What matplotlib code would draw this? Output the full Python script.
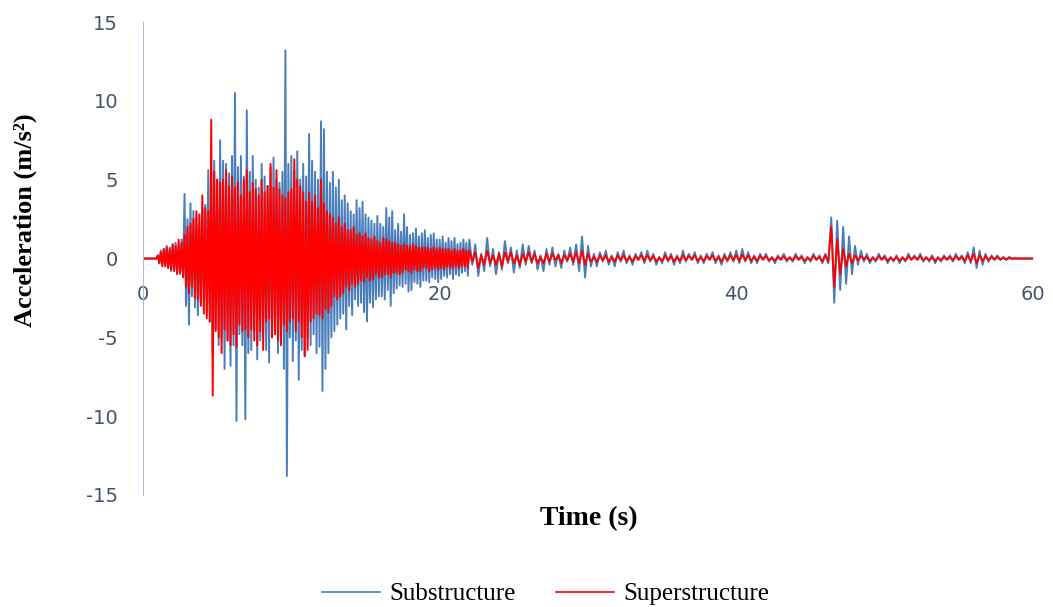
import numpy as np
import matplotlib
matplotlib.use('Agg')
import matplotlib.pyplot as plt

plt.rcParams['axes.unicode_minus'] = False

# acceleration records (m/s^2)
# quiet lead-in before shaking starts
lead_t = [0.0, 0.9]
lead_val = [0.0, 0.0]

# strong part, 0.1 s samples from 1.0 s to 21.9 s (one row = 1 s)
dense_start, dense_step = 1.0, 0.1
sub_dense = [0.2, -0.3, 0.5, -0.4, 0.6, -0.5, 0.8, -0.6, 0.7, -0.8,
             0.9, -0.7, 1.0, -0.9, 0.8, -1.0, 1.2, -1.1, 4.1, -3.0,
             2.5, -4.2, 3.5, -2.4, 3.0, -3.1, 2.6, -3.6, 2.2, -2.8,
             3.2, -2.5, 3.4, -3.4, 5.6, -4.0, 4.8, -6.0, 6.2, -4.5,
             5.0, -5.5, 7.5, -5.0, 6.2, -7.0, 6.0, -5.2, 5.4, -6.8,
             6.5, -5.5, 10.5, -10.3, 5.8, -4.8, 6.5, -5.5, 5.2, -10.2,
             9.4, -6.0, 5.5, -5.8, 6.5, -4.6, 5.0, -6.4, 4.5, -5.2,
             6.0, -4.8, 5.2, -5.8, 4.6, -6.6, 5.8, -5.0, 6.4, -4.4,
             5.0, -6.0, 4.8, -5.4, 5.5, -7.0, 13.2, -13.8, 6.0, -5.0,
             6.5, -6.5, 5.6, -5.2, 6.8, -7.7, 5.0, -5.8, 6.0, -6.2,
             5.2, -5.0, 7.9, -5.5, 6.2, -4.8, 5.5, -6.0, 5.0, -5.6,
             8.7, -8.4, 8.2, -7.0, 5.5, -6.0, 4.8, -5.0, 5.5, -4.6,
             4.5, -4.2, 5.0, -3.8, 3.7, -3.5, 4.0, -4.5, 3.5, -3.0,
             3.0, -3.6, 2.8, -2.6, 3.7, -3.0, 3.2, -2.8, 3.6, -3.4,
             2.8, -4.0, 2.6, -2.8, 2.4, -3.1, 2.2, -2.6, 2.7, -2.4,
             2.2, -2.4, 2.0, -2.6, 3.2, -2.0, 2.6, -3.0, 3.0, -2.2,
             1.8, -1.9, 2.2, -1.7, 1.7, -1.8, 2.8, -1.6, 2.0, -2.1,
             1.5, -2.0, 1.6, -1.5, 1.9, -1.6, 1.4, -1.8, 1.6, -1.4,
             1.8, -1.4, 1.3, -1.5, 1.5, -1.2, 1.6, -1.3, 1.2, -1.5,
             1.2, -1.3, 1.4, -1.1, 1.0, -1.2, 1.3, -1.0, 1.1, -1.3,
             1.3, -1.0, 0.9, -1.1, 1.0, -0.9, 1.2, -0.8, 1.0, -1.1]
sup_dense = [0.2, -0.3, 0.4, -0.5, 0.6, -0.5, 0.7, -0.6, 0.6, -0.7,
             0.9, -0.8, 0.8, -1.0, 1.2, -0.9, 1.0, -1.2, 1.5, -1.8,
             2.0, -2.2, 2.2, -1.8, 2.5, -2.5, 3.0, -2.6, 2.8, -3.0,
             4.0, -3.5, 3.2, -3.8, 3.0, -4.0, 8.8, -8.7, 5.5, -4.6,
             5.0, -5.0, 4.8, -6.0, 5.0, -4.5, 5.6, -5.2, 4.6, -5.5,
             5.2, -4.8, 4.5, -5.6, 4.8, -4.2, 4.0, -4.6, 5.0, -4.5,
             5.6, -5.0, 4.2, -4.5, 4.8, -5.2, 4.4, -5.5, 4.0, -4.6,
             5.0, -5.8, 4.2, -4.0, 4.6, -3.8, 6.0, -5.0, 4.5, -4.8,
             5.6, -5.2, 4.4, -5.5, 4.0, -4.2, 3.8, -4.6, 4.2, -4.0,
             4.4, -3.8, 6.3, -4.6, 5.0, -4.0, 4.6, -5.0, 4.2, -6.2,
             3.6, -5.8, 4.2, -4.0, 3.6, -3.8, 4.0, -3.5, 3.2, -3.6,
             5.0, -3.8, 3.5, -3.2, 3.0, -3.4, 2.8, -3.0, 2.6, -2.4,
             2.2, -2.6, 2.6, -2.4, 2.0, -2.2, 2.2, -1.8, 1.8, -2.0,
             1.8, -1.6, 2.0, -1.8, 1.5, -1.6, 1.6, -1.4, 1.4, -1.5,
             1.6, -1.2, 1.3, -1.4, 1.2, -1.3, 1.4, -1.0, 1.1, -1.2,
             1.0, -1.2, 1.3, -1.0, 1.2, -1.0, 1.1, -1.2, 1.0, -0.9,
             1.0, -0.9, 0.9, -1.0, 0.8, -0.9, 0.9, -0.7, 0.8, -0.8,
             0.8, -0.9, 0.9, -0.7, 0.8, -0.8, 0.7, -0.8, 0.7, -0.6,
             0.7, -0.6, 0.7, -0.8, 0.6, -0.7, 0.7, -0.6, 0.6, -0.7,
             0.7, -0.6, 0.6, -0.7, 0.6, -0.5, 0.6, -0.6, 0.5, -0.6,
             0.6, -0.5, 0.5, -0.6, 0.5, -0.5, 0.6, -0.5, 0.5, -0.6]

# weak tail, 0.2 s samples from 22.0 s to 60.0 s (one row = 2 s)
tail_start, tail_step = 22.0, 0.2
sub_tail = [1.2, -0.4, 0.9, -1.1, 0.3, -0.8, 1.3, -0.5, 0.6, -1.0,
            0.4, -0.7, 1.1, -0.3, 0.7, -0.9, 0.5, -0.6, 0.9, -0.4,
            0.8, -0.3, 0.5, -0.7, 0.2, -0.8, 0.6, -0.4, 0.7, -0.5,
            0.3, -0.6, 0.5, -0.2, 0.7, -0.4, 0.9, -0.8, 1.4, -1.2,
            0.8, -0.5, 0.3, -0.5, 0.4, -0.2, 0.5, -0.4, 0.2, -0.5,
            0.4, -0.2, 0.5, -0.3, 0.2, -0.4, 0.3, -0.1, 0.4, -0.3,
            0.5, -0.2, 0.3, -0.4, 0.1, -0.3, 0.4, -0.2, 0.3, -0.4,
            0.2, -0.3, 0.5, -0.2, 0.3, -0.1, 0.4, -0.3, 0.2, -0.3,
            0.3, -0.1, 0.4, -0.3, 0.2, -0.4, 0.3, -0.2, 0.4, -0.2,
            0.5, -0.3, 0.6, -0.2, 0.4, -0.3, 0.2, -0.3, 0.3, -0.1,
            0.3, -0.2, 0.1, -0.3, 0.2, -0.1, 0.3, -0.2, 0.1, -0.2,
            0.3, -0.1, 0.2, -0.3, 0.1, -0.2, 0.3, -0.1, 0.2, -0.3,
            0.3, -0.3, 2.6, -2.8, 2.4, -2.0, 2.0, -1.6, 1.4, -1.0,
            0.8, -0.4, 0.5, -0.2, 0.3, -0.3, 0.1, -0.2, 0.3, -0.1,
            0.2, -0.3, 0.1, -0.2, 0.2, -0.3, 0.1, -0.2, 0.3, -0.1,
            0.2, -0.1, 0.3, -0.2, 0.1, -0.2, 0.2, -0.3, 0.1, -0.2,
            0.2, -0.1, 0.2, -0.2, 0.3, -0.1, 0.2, -0.3, 0.4, -0.3,
            0.7, -0.6, 0.5, -0.4, 0.3, -0.2, 0.2, -0.1, 0.2, -0.1,
            0.1, -0.1, 0.1, -0.05, 0.05, 0.0, 0.0, 0.0, 0.0, 0.0,
            0.0]
sup_tail = [0.5, -0.2, 0.4, -0.6, 0.2, -0.4, 0.5, -0.3, 0.2, -0.4,
            0.3, -0.5, 0.4, -0.2, 0.4, -0.3, 0.2, -0.4, 0.3, -0.2,
            0.4, -0.2, 0.3, -0.3, 0.1, -0.3, 0.3, -0.2, 0.3, -0.1,
            0.2, -0.3, 0.2, -0.1, 0.3, -0.2, 0.4, -0.3, 0.5, -0.4,
            0.3, -0.2, 0.1, -0.2, 0.2, -0.1, 0.2, -0.2, 0.1, -0.2,
            0.2, -0.1, 0.2, -0.15, 0.1, -0.2, 0.15, -0.05, 0.2, -0.15,
            0.2, -0.1, 0.15, -0.2, 0.05, -0.15, 0.2, -0.1, 0.15, -0.2,
            0.1, -0.15, 0.2, -0.1, 0.15, -0.05, 0.2, -0.15, 0.1, -0.15,
            0.15, -0.05, 0.2, -0.15, 0.1, -0.2, 0.15, -0.1, 0.2, -0.1,
            0.2, -0.15, 0.25, -0.1, 0.2, -0.15, 0.1, -0.15, 0.15, -0.05,
            0.15, -0.1, 0.05, -0.15, 0.1, -0.05, 0.15, -0.1, 0.05, -0.1,
            0.15, -0.05, 0.1, -0.15, 0.05, -0.1, 0.15, -0.05, 0.1, -0.2,
            0.2, -0.2, 2.0, -1.8, 1.2, -1.0, 0.6, -0.5, 0.3, -0.3,
            0.2, -0.1, 0.15, -0.05, 0.1, -0.15, 0.05, -0.1, 0.15, -0.05,
            0.1, -0.15, 0.05, -0.1, 0.1, -0.15, 0.05, -0.1, 0.15, -0.05,
            0.1, -0.05, 0.15, -0.1, 0.05, -0.1, 0.1, -0.15, 0.05, -0.1,
            0.1, -0.05, 0.1, -0.1, 0.15, -0.05, 0.1, -0.15, 0.2, -0.15,
            0.3, -0.3, 0.2, -0.15, 0.15, -0.1, 0.1, -0.05, 0.1, -0.05,
            0.05, -0.05, 0.05, 0.0, 0.0, 0.0, 0.0, 0.0, 0.0, 0.0,
            0.0]

x_ticks = [0, 20, 40, 60]
y_ticks = [-15, -10, -5, 0, 5, 10, 15]


def build(dense, tail):
    t = np.concatenate([lead_t,
                        dense_start + dense_step * np.arange(len(dense)),
                        tail_start + tail_step * np.arange(len(tail))])
    v = np.concatenate([lead_val, dense, tail])
    return t, v


def main():
    tick_col = '#44546A'
    fig = plt.figure(figsize=(10.53, 6.07), dpi=100)
    ax = fig.add_axes([143 / 1053, 1 - 495 / 607, 890 / 1053, 473 / 607])

    t_sub, v_sub = build(sub_dense, sub_tail)
    t_sup, v_sup = build(sup_dense, sup_tail)
    ax.plot(t_sub, v_sub, color='#4A7EBB', lw=1.4, label='Substructure')
    ax.plot(t_sup, v_sup, color='#FF0000', lw=1.4, label='Superstructure')

    ax.set_xlim(0, 60)
    ax.set_ylim(-15, 15)
    ax.set_xticks(x_ticks)
    ax.set_yticks(y_ticks)
    ax.spines['top'].set_visible(False)
    ax.spines['right'].set_visible(False)
    ax.spines['left'].set_color('#A9BCDC')
    ax.spines['bottom'].set_position(('data', 0))
    ax.spines['bottom'].set_color('#D0D0D0')
    ax.spines['bottom'].set_zorder(0)
    ax.tick_params(axis='both', length=0, labelcolor=tick_col)
    ax.tick_params(axis='x', pad=19)
    ax.tick_params(axis='y', pad=18)
    for lab in ax.get_xticklabels() + ax.get_yticklabels():
        lab.set_fontfamily('DejaVu Sans')
        lab.set_fontsize(14)

    fig.text(25 / 1053, 1 - 220 / 607, 'Acceleration (m/s²)', rotation=90,
             ha='center', va='center', fontsize=19, fontweight='bold',
             family='Liberation Serif')
    fig.text(589 / 1053, 1 - 519 / 607, 'Time (s)', ha='center', va='center',
             fontsize=20, fontweight='bold', family='Liberation Serif')

    leg = fig.legend(loc='center', bbox_to_anchor=(546 / 1053, 1 - 594 / 607),
                     ncol=2, frameon=False, handlelength=2.3, handletextpad=0.4,
                     columnspacing=1.6,
                     prop={'family': 'Liberation Serif', 'size': 18})
    for line in leg.get_lines():
        line.set_linewidth(1.2)

    fig.savefig('out.png', dpi=100)


if __name__ == '__main__':
    main()
